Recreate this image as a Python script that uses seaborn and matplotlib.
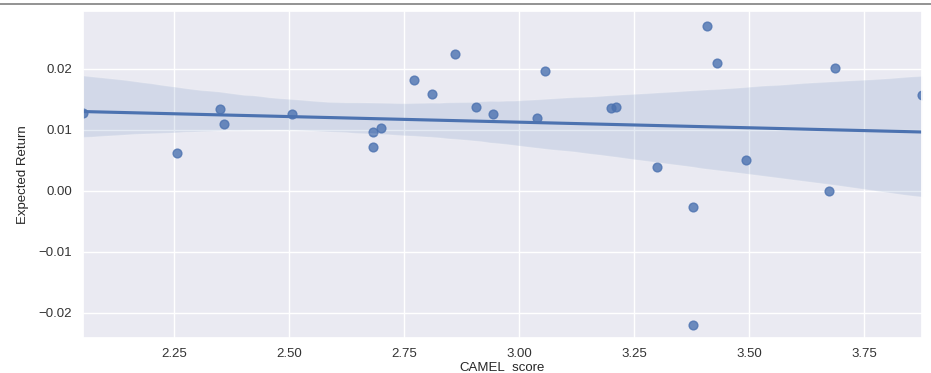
import numpy as np
import pandas as pd
import matplotlib
matplotlib.use("Agg")
import matplotlib.pyplot as plt
import seaborn as sns
from matplotlib.lines import Line2D

camel_score = [2.052, 2.256, 2.350, 2.359, 2.506, 2.682, 2.700, 2.682, 2.772, 2.810,
               2.861, 2.906, 2.943, 3.039, 3.056, 3.199, 3.210, 3.408, 3.430, 3.299,
               3.493, 3.687, 3.673, 3.875, 3.378, 3.378]
expected_return = [0.0128, 0.0062, 0.0134, 0.0110, 0.0126, 0.0097, 0.0104, 0.0072, 0.0182, 0.0159,
                   0.0225, 0.0137, 0.0126, 0.0119, 0.0196, 0.0136, 0.0138, 0.0270, 0.0209, 0.0039,
                   0.0050, 0.0202, 0.0000, 0.0157, -0.0026, -0.0220]

df = pd.DataFrame({"CAMEL_score": camel_score, "Expected Return": expected_return})

sns.set_theme(style="darkgrid")
plt.rcParams['font.family'] = ['Liberation Sans', 'DejaVu Sans']

fig = plt.figure(figsize=(9.31, 3.73), dpi=100)
ax = fig.add_axes([0.0892, 0.0938, 0.9011, 0.8767])
np.random.seed(0)
sns.regplot(data=df, x="CAMEL_score", y="Expected Return", ax=ax, seed=3,
            scatter_kws={"s": 40})
ax.set_xlim(min(camel_score), max(camel_score))
ax.set_ylim(-0.0241, 0.0295)
ax.set_xticks([2.25, 2.50, 2.75, 3.00, 3.25, 3.50, 3.75])
ax.set_yticks([-0.02, -0.01, 0.00, 0.01, 0.02])
ax.tick_params(labelsize=9.5, colors='#333333', length=0)
ax.tick_params(axis='x', pad=7.5)
ax.tick_params(axis='y', pad=8)
ax.set_xlabel("CAMEL_score", fontsize=9.5, labelpad=0.5)
ax.set_ylabel("Expected Return", fontsize=9.5, labelpad=7)

fig.add_artist(Line2D([0, 1], [1 - 3.5/373, 1 - 3.5/373], color='#808080', lw=1.2,
                      transform=fig.transFigure))

fig.savefig("out.png", dpi=100)
